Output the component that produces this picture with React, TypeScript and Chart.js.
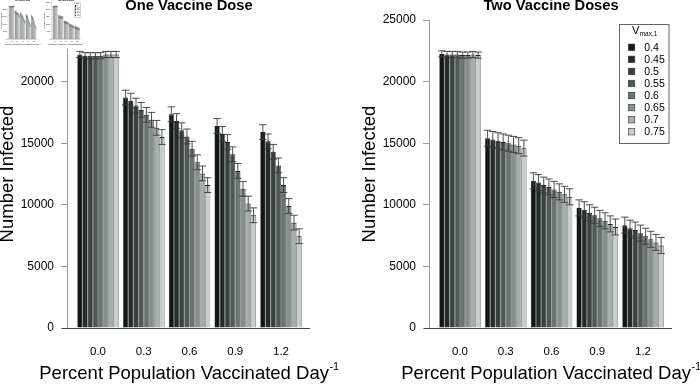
import React, { useEffect, useRef } from "react";
import { Chart, registerables } from "chart.js";

Chart.register(...registerables);

// ---------- data ----------
const groupLabels = ["0.0", "0.3", "0.6", "0.9", "1.2"];
const vmaxLabels = ["0.4", "0.45", "0.5", "0.55", "0.6", "0.65", "0.7", "0.75"];

// One vaccine dose (number infected), one array per Vmax,1 value
const oneDoseV040 = [22200, 18700, 17350, 16400, 15900];
const oneDoseV045 = [22100, 18450, 16800, 15750, 15150];
const oneDoseV050 = [22100, 18050, 16050, 15100, 14300];
const oneDoseV055 = [22100, 17700, 15550, 14100, 13200];
const oneDoseV060 = [22100, 17300, 14550, 12750, 11600];
const oneDoseV065 = [22200, 16900, 13450, 11300, 9900];
const oneDoseV070 = [22200, 16250, 12550, 10100, 8550];
const oneDoseV075 = [22200, 15500, 11600, 9150, 7450];
const oneDoseErr = [250, 600, 600, 600, 600];

// Two vaccine doses
const twoDoseV040 = [22250, 15400, 11950, 9750, 8350];
const twoDoseV045 = [22200, 15300, 11800, 9600, 8100];
const twoDoseV050 = [22200, 15200, 11600, 9350, 7950];
const twoDoseV055 = [22200, 15100, 11450, 9150, 7700];
const twoDoseV060 = [22150, 15000, 11250, 8900, 7450];
const twoDoseV065 = [22150, 14900, 11050, 8700, 7200];
const twoDoseV070 = [22200, 14800, 10850, 8450, 6950];
const twoDoseV075 = [22150, 14600, 10650, 8200, 6700];
const twoDoseErr = [250, 650, 650, 650, 650];

const oneYTicks = [0, 5000, 10000, 15000, 20000];
const twoYTicks = [0, 5000, 10000, 15000, 20000, 25000];

// ---------- style ----------
const seriesColors = [
  "#111816",
  "#222d2b",
  "#36423f",
  "#4d5a57",
  "#677471",
  "#84908c",
  "#a4aeaa",
  "#c6cfcb",
];
const FONT = '"Liberation Sans", Arial, Helvetica, sans-serif';

interface PanelSpec {
  title: string;
  series: number[][];
  err: number[];
  yTicks: number[];
  axisTop: number;
  padLeft: number;
  padRight: number;
  legend: boolean;
}

const onePanel: PanelSpec = {
  title: "One Vaccine Dose",
  series: [oneDoseV040, oneDoseV045, oneDoseV050, oneDoseV055, oneDoseV060, oneDoseV065, oneDoseV070, oneDoseV075],
  err: oneDoseErr,
  yTicks: oneYTicks,
  axisTop: 22670,
  padLeft: 0,
  padRight: 40,
  legend: false,
};

const twoPanel: PanelSpec = {
  title: "Two Vaccine Doses",
  series: [twoDoseV040, twoDoseV045, twoDoseV050, twoDoseV055, twoDoseV060, twoDoseV065, twoDoseV070, twoDoseV075],
  err: twoDoseErr,
  yTicks: twoYTicks,
  axisTop: 25000,
  padLeft: 12,
  padRight: 28,
  legend: true,
};

function buildConfig(spec: PanelSpec, s: number): any {
  const isMini = s < 1;
  const lw = (v: number) => (isMini ? Math.max(v * s, 0.3) : v * s);
  const decor = {
    id: "decor",
    afterDatasetsDraw(chart: any) {
      const { ctx } = chart;
      const y = chart.scales.y;
      ctx.save();
      ctx.strokeStyle = "#3a3a3a";
      ctx.lineWidth = lw(0.9);
      const cap = 3.7 * s;
      chart.data.datasets.forEach((ds: any, di: number) => {
        const meta = chart.getDatasetMeta(di);
        meta.data.forEach((el: any, i: number) => {
          const v = ds.data[i];
          const e = spec.err[i];
          const x = el.x;
          const t = y.getPixelForValue(v + e);
          const b = y.getPixelForValue(v - e);
          ctx.beginPath();
          ctx.moveTo(x, t);
          ctx.lineTo(x, b);
          ctx.moveTo(x - cap, t);
          ctx.lineTo(x + cap, t);
          ctx.moveTo(x - cap, b);
          ctx.lineTo(x + cap, b);
          ctx.stroke();
        });
      });
      ctx.restore();
    },
    afterDraw(chart: any) {
      const { ctx, chartArea: ca } = chart;
      const y = chart.scales.y;
      ctx.save();
      // y axis line
      const ax = isMini ? ca.left : Math.round(ca.left) - 0.5;
      ctx.strokeStyle = "#9a9a9a";
      ctx.lineWidth = lw(1);
      ctx.beginPath();
      ctx.moveTo(ax, y.getPixelForValue(0));
      ctx.lineTo(ax, y.getPixelForValue(spec.axisTop));
      ctx.stroke();
      // baseline
      const by = isMini ? y.getPixelForValue(0) : Math.round(y.getPixelForValue(0)) + 0.5;
      ctx.strokeStyle = "#444";
      ctx.beginPath();
      ctx.moveTo(ca.left - 6 * s, by);
      ctx.lineTo(ca.right, by);
      ctx.stroke();

      // x title with superscript
      const cx = (ca.left + ca.right) / 2;
      const main = "Percent Population Vaccinated Day";
      const sup = "-1";
      ctx.fillStyle = "#000";
      ctx.textBaseline = "alphabetic";
      ctx.textAlign = "left";
      ctx.font = `${18.5 * s}px ${FONT}`;
      const w1 = ctx.measureText(main).width;
      ctx.font = `${11 * s}px ${FONT}`;
      const w2 = ctx.measureText(sup).width;
      const x0 = cx - (w1 + w2) / 2;
      ctx.font = `${18.5 * s}px ${FONT}`;
      ctx.fillText(main, x0, 378.5 * s);
      ctx.font = `${11 * s}px ${FONT}`;
      ctx.fillText(sup, x0 + w1 + 0.5 * s, 370 * s);

      // legend
      if (spec.legend) {
        ctx.strokeStyle = "#666";
        ctx.lineWidth = lw(1);
        ctx.strokeRect(269.5 * s, 24.5 * s, 49.5 * s, 119 * s);
        ctx.fillStyle = "#000";
        ctx.font = `${11 * s}px ${FONT}`;
        const vW = ctx.measureText("V").width;
        ctx.fillText("V", 282 * s, 33.5 * s);
        ctx.font = `${6.5 * s}px ${FONT}`;
        ctx.fillText("max,1", 282 * s + vW + 0.3 * s, 36 * s);
        ctx.font = `${10.5 * s}px ${FONT}`;
        ctx.textBaseline = "middle";
        vmaxLabels.forEach((lab, i) => {
          const cy = (47.3 + 12.06 * i) * s;
          ctx.fillStyle = seriesColors[i];
          ctx.fillRect(278.3 * s, cy - 3.25 * s, 6.5 * s, 6.5 * s);
          ctx.strokeStyle = "#333";
          ctx.lineWidth = 0.6 * s;
          ctx.strokeRect(278.3 * s, cy - 3.25 * s, 6.5 * s, 6.5 * s);
          ctx.fillStyle = "#000";
          ctx.fillText(lab, 294.3 * s, cy + 0.5 * s);
        });
      }
      ctx.restore();
    },
  };

  const datasets = spec.series.map((d, i) => ({
    label: vmaxLabels[i],
    data: d,
    backgroundColor: seriesColors[i],
    borderColor: "#1a1a1a",
    borderWidth: isMini
      ? { top: 0.3, left: 0.15, right: 0.15, bottom: 0 }
      : { top: 1, left: 0.5, right: 0.5, bottom: 0 },
    categoryPercentage: 0.907,
    barPercentage: 1.0,
  }));

  return {
    type: "bar",
    data: { labels: groupLabels, datasets },
    plugins: [decor],
    options: {
      responsive: false,
      maintainAspectRatio: false,
      animation: false,
      devicePixelRatio: 1,
      events: [],
      layout: { padding: { left: spec.padLeft * s, right: spec.padRight * s, top: 0, bottom: 0 } },
      plugins: {
        legend: { display: false },
        tooltip: { enabled: false },
        title: {
          display: true,
          fullSize: false,
          text: spec.title,
          color: "#000",
          font: { family: FONT, size: 14.7 * s, weight: "bold", lineHeight: 0.8 },
          padding: { top: 0, bottom: 8.24 * s },
        },
      },
      scales: {
        x: {
          type: "linear",
          min: -0.1968,
          max: 1.3902,
          offset: false,
          afterBuildTicks: (sc: any) => {
            sc.ticks = groupLabels.map((g) => ({ value: parseFloat(g) }));
          },
          afterFit: (sc: any) => {
            sc.height = 57 * s;
          },
          border: { display: false },
          grid: { display: false, drawTicks: false, offset: false },
          ticks: {
            font: { family: FONT, size: 11.5 * s },
            color: "#000",
            padding: 17 * s,
            autoSkip: false,
            maxRotation: 0,
            minRotation: 0,
            callback: (v: any) => Number(v).toFixed(1),
          },
        },
        y: {
          min: 0,
          max: 25000,
          afterBuildTicks: (sc: any) => {
            sc.ticks = spec.yTicks.map((v) => ({ value: v }));
          },
          afterFit: (sc: any) => {
            sc.width = 68 * s;
          },
          border: { display: false },
          grid: {
            drawOnChartArea: false,
            drawTicks: true,
            tickLength: 7 * s,
            color: "#9a9a9a",
            lineWidth: lw(1),
          },
          ticks: {
            font: { family: FONT, size: 12 * s },
            color: "#000",
            padding: 7 * s,
            autoSkip: false,
            callback: (v: any) => String(v),
          },
          title: {
            display: true,
            text: "Number Infected",
            color: "#000",
            font: { family: FONT, size: 18.5 * s, lineHeight: 1 },
            padding: { top: -1.25 * s, bottom: 0 },
          },
        },
      },
    },
  };
}

function PanelCanvas({ spec, s, left, top }: { spec: PanelSpec; s: number; left: number; top: number }) {
  const ref = useRef<HTMLCanvasElement | null>(null);
  const w = Math.round(350 * s);
  const h = Math.round(385 * s);
  useEffect(() => {
    if (!ref.current) return;
    const chart = new Chart(ref.current, buildConfig(spec, s));
    return () => chart.destroy();
  }, [spec, s]);
  return (
    <canvas
      ref={ref}
      width={w}
      height={h}
      style={{ position: "absolute", left, top, width: w, height: h, display: "block" }}
    />
  );
}

export default function App() {
  const mini = 0.12;
  return (
    <div
      style={{
        position: "fixed",
        left: 0,
        top: 0,
        width: 700,
        height: 385,
        background: "#fff",
        overflow: "hidden",
      }}
    >
      <PanelCanvas spec={onePanel} s={1} left={0} top={0} />
      <PanelCanvas spec={twoPanel} s={1} left={350} top={0} />
      <PanelCanvas spec={onePanel} s={mini} left={0} top={0} />
      <PanelCanvas spec={twoPanel} s={mini} left={Math.round(350 * mini)} top={0} />
    </div>
  );
}
